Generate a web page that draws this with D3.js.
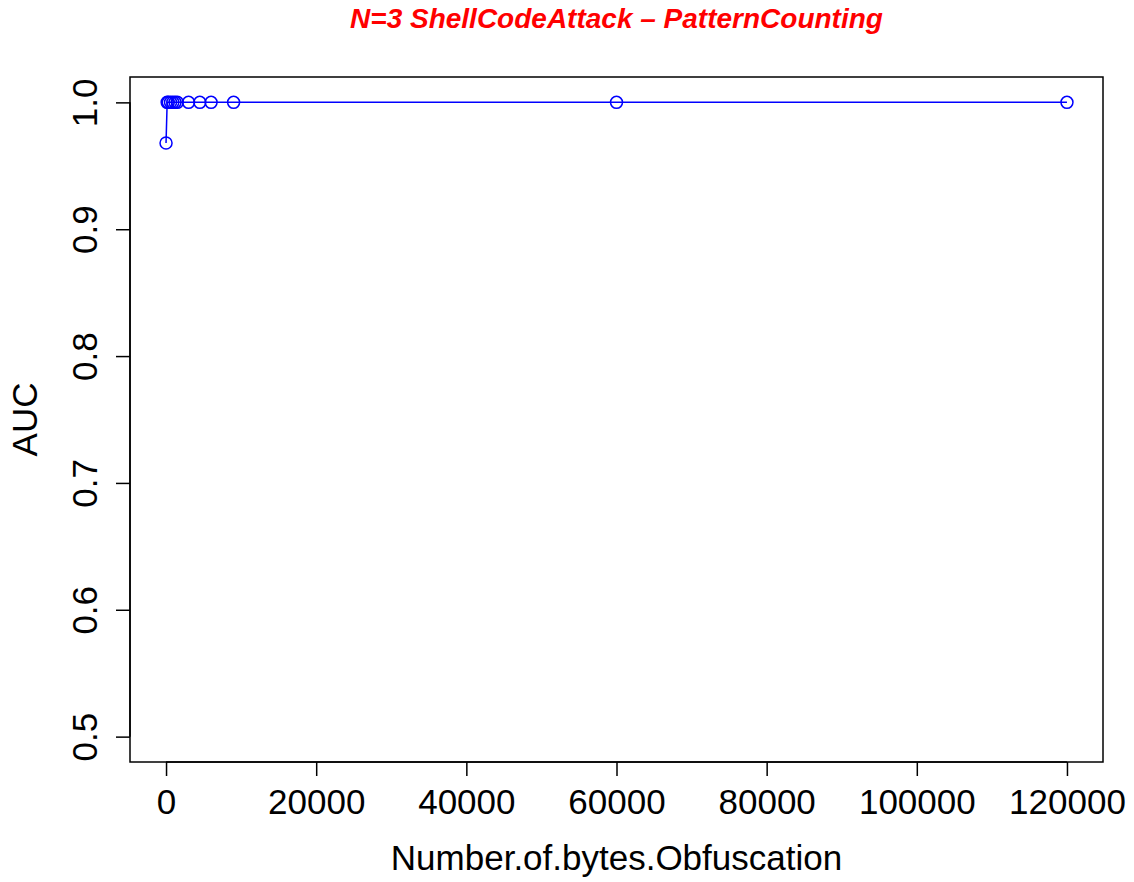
<!DOCTYPE html>
<html>
<head>
<meta charset="utf-8">
<script src="https://cdn.jsdelivr.net/npm/d3@7"></script>
<style>
  body { margin: 0; background: #fff; }
  svg { display: block; font-family: "Liberation Sans", Arial, sans-serif; }
</style>
</head>
<body>
<svg id="chart" width="1134" height="882"></svg>
<script>
const bytes = [0, 150, 300, 600, 900, 1200, 1500, 3000, 4500, 6000, 9000, 60000, 120000]
const auc = [0.968, 1, 1, 1, 1, 1, 1, 1, 1, 1, 1, 1, 1]
const xTicks = [0, 20000, 40000, 60000, 80000, 100000, 120000]
const yTicks = [0.5, 0.6, 0.7, 0.8, 0.9, 1.0]

const svg = d3.select("#chart")
const plotL = 130, plotR = 1103, plotT = 77, plotB = 762

// R style 4% padding on both ends
const xPad = (120000 - 0) * 0.04
const yPad = (1.0 - 0.5) * 0.04
const x = d3.scaleLinear().domain([0 - xPad, 120000 + xPad]).range([plotL, plotR])
const y = d3.scaleLinear().domain([0.5 - yPad, 1.0 + yPad]).range([plotB, plotT])

svg.append("rect")
   .attr("x", plotL).attr("y", plotT)
   .attr("width", plotR - plotL).attr("height", plotB - plotT)
   .attr("fill", "none").attr("stroke", "#000").attr("stroke-width", 1.5)

const xAxis = svg.append("g")
   .attr("transform", "translate(0," + plotB + ")")
   .call(d3.axisBottom(x).tickValues(xTicks).tickSize(14).tickPadding(13).tickFormat(d3.format("d")))
xAxis.select(".domain").attr("d", "M" + x(0) + ",0H" + x(120000)).attr("stroke-width", 1.5)
xAxis.selectAll(".tick line").attr("stroke-width", 1.5)
xAxis.selectAll("text").style("font-size", "35px").attr("fill", "#000")

const yAxis = svg.append("g")
   .attr("transform", "translate(" + plotL + ",0)")
   .call(d3.axisLeft(y).tickValues(yTicks).tickSize(14).tickFormat(d3.format(".1f")))
yAxis.select(".domain").attr("d", "M0," + y(0.5) + "V" + y(1.0)).attr("stroke-width", 1.5)
yAxis.selectAll(".tick line").attr("stroke-width", 1.5)
yAxis.selectAll("text")
     .style("font-size", "35px").attr("fill", "#000")
     .attr("x", null).attr("dy", null)
     .attr("text-anchor", "middle")
     .attr("transform", "translate(-33,0) rotate(-90)")

const line = d3.line().x((d, i) => x(bytes[i])).y((d) => y(d))
svg.append("path")
   .datum(auc)
   .attr("d", line)
   .attr("fill", "none").attr("stroke", "#0000ff").attr("stroke-width", 1.5)

svg.selectAll("circle.pt")
   .data(auc)
   .enter()
   .append("circle")
   .attr("class", "pt")
   .attr("cx", (d, i) => x(bytes[i]))
   .attr("cy", (d) => y(d))
   .attr("r", 6)
   .attr("fill", "none").attr("stroke", "#0000ff").attr("stroke-width", 1.5)

svg.append("text")
   .attr("x", (plotL + plotR) / 2).attr("y", 28)
   .attr("text-anchor", "middle")
   .style("font-size", "28px").style("font-weight", "bold").style("font-style", "italic")
   .attr("fill", "#ff0000")
   .text("N=3 ShellCodeAttack – PatternCounting")

svg.append("text")
   .attr("x", (plotL + plotR) / 2).attr("y", 870)
   .attr("text-anchor", "middle")
   .style("font-size", "35px").attr("fill", "#000")
   .text("Number.of.bytes.Obfuscation")

svg.append("text")
   .attr("transform", "translate(37," + (plotT + plotB) / 2 + ") rotate(-90)")
   .attr("text-anchor", "middle")
   .style("font-size", "35px").attr("fill", "#000")
   .text("AUC")
</script>
</body>
</html>
